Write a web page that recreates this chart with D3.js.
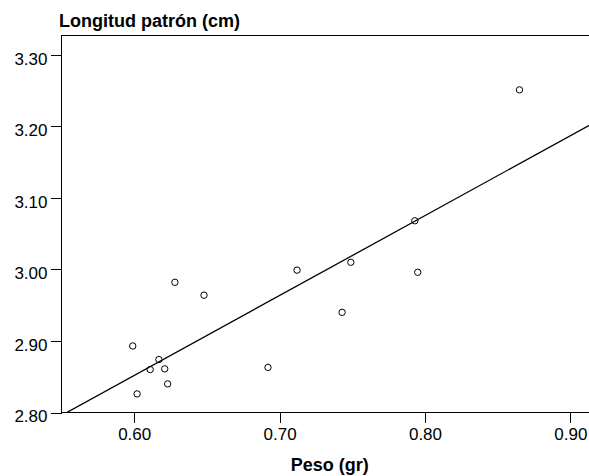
<!DOCTYPE html>
<html>
<head>
<meta charset="utf-8">
<script src="https://cdn.jsdelivr.net/npm/d3@7"></script>
<style>
	body { margin: 0; background: #fff; }
	svg { display: block; }
	text { font-family: "Liberation Sans", Arial, sans-serif; fill: #000; }
</style>
</head>
<body>
<div id="chart"></div>
<script>
var WIDTH = 589;
var HEIGHT = 476;

// data
var peso = [0.628, 0.648, 0.599, 0.617, 0.611, 0.621, 0.623, 0.602, 0.692, 0.712, 0.865, 0.793, 0.749, 0.795, 0.743];
var longitud = [2.982, 2.964, 2.893, 2.874, 2.860, 2.861, 2.840, 2.826, 2.863, 2.999, 3.251, 3.068, 3.010, 2.996, 2.940];
var xTicks = [0.60, 0.70, 0.80, 0.90];
var yTicks = [2.80, 2.90, 3.00, 3.10, 3.20, 3.30];
var xTitle = "Peso (gr)";
var yTitle = "Longitud patrón (cm)";

var plot = { left: 61.5, right: 598, top: 35.5, bottom: 412.5 };

var points = peso.map((p, i) => ({ x: p, y: longitud[i] }));

var svg = d3.select("#chart").append("svg")
	.attr("width", WIDTH).attr("height", HEIGHT);

// scales
var xScale = d3.scaleLinear().domain([0.55, 0.919]).range([plot.left, plot.right]);
var yScale = d3.scaleLinear().domain([2.80, 3.327]).range([plot.bottom, plot.top]);

svg.append("clipPath").attr("id", "clip")
	.append("rect")
	.attr("x", plot.left).attr("y", plot.top)
	.attr("width", plot.right - plot.left).attr("height", plot.bottom - plot.top);

// least squares fit line
var mx = d3.mean(peso), my = d3.mean(longitud);
var sxy = d3.sum(points, d => (d.x - mx) * (d.y - my));
var sxx = d3.sum(points, d => (d.x - mx) * (d.x - mx));
var slope = sxy / sxx;
var intercept = my - slope * mx;
var xd = xScale.domain();

svg.append("line")
	.attr("clip-path", "url(#clip)")
	.attr("x1", xScale(xd[0])).attr("y1", yScale(intercept + slope * xd[0]))
	.attr("x2", xScale(xd[1])).attr("y2", yScale(intercept + slope * xd[1]))
	.attr("stroke", "#000").attr("stroke-width", 1.3);

// points
svg.append("g").selectAll("circle")
	.data(points)
	.enter().append("circle")
	.attr("cx", d => xScale(d.x))
	.attr("cy", d => yScale(d.y))
	.attr("r", 3.2)
	.attr("fill", "none")
	.attr("stroke", "#000")
	.attr("stroke-width", 1);

// frame: left, bottom, top
svg.append("path")
	.attr("d", `M${plot.right},${plot.top}H${plot.left}V${plot.bottom}H${plot.right}`)
	.attr("fill", "none").attr("stroke", "#000").attr("stroke-width", 1)
	.attr("shape-rendering", "crispEdges");

// axes
var xAxis = d3.axisBottom(xScale).tickValues(xTicks).tickFormat(d3.format(".2f"))
	.tickSizeInner(10).tickSizeOuter(0).tickPadding(4);
var gx = svg.append("g").attr("transform", `translate(0,${plot.bottom})`).call(xAxis);
gx.select(".domain").remove();
gx.selectAll(".tick line").attr("stroke", "#000").attr("shape-rendering", "crispEdges");
gx.selectAll(".tick text").attr("font-size", 17).attr("font-family", null).attr("dy", "0.82em");

var yAxis = d3.axisLeft(yScale).tickValues(yTicks).tickFormat(d3.format(".2f"))
	.tickSizeInner(11).tickSizeOuter(0).tickPadding(3);
var gy = svg.append("g").attr("transform", `translate(${plot.left},0)`).call(yAxis);
gy.select(".domain").remove();
gy.selectAll(".tick line").attr("stroke", "#000").attr("shape-rendering", "crispEdges");
gy.selectAll(".tick text").attr("font-size", 17).attr("font-family", null).attr("dy", "0.55em");

// titles
svg.append("text")
	.attr("x", 59).attr("y", 27)
	.style("font-size", "18px").style("font-weight", "bold")
	.text(yTitle);

svg.append("text")
	.attr("x", (plot.left + plot.right) / 2).attr("y", 471)
	.attr("text-anchor", "middle")
	.style("font-size", "18px").style("font-weight", "bold")
	.text(xTitle);
</script>
</body>
</html>
